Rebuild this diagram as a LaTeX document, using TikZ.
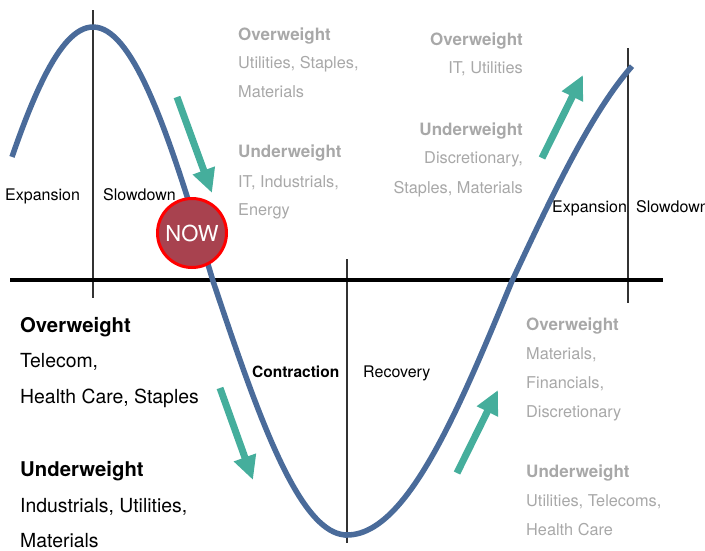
\documentclass[tikz,border=0pt]{standalone}
\usepackage{xcolor}
\usepackage{fontspec}
\setmainfont{TeX Gyre Heros}
\usepackage{tikz}
\usetikzlibrary{arrows.meta}
\definecolor{cyclblue}{HTML}{4A6B9A}
\definecolor{trendgreen}{HTML}{45AE9C}
\definecolor{txtgray}{HTML}{A8A8A8}
\definecolor{nowred}{HTML}{A8424F}
\tikzset{
  phase/.style={font=\fontsize{16}{18}\selectfont, inner sep=0, anchor=base west},
  ghead/.style={font=\bfseries\fontsize{17}{20}\selectfont, text=txtgray, inner sep=0},
  gitem/.style={font=\fontsize{16.3}{18}\selectfont, text=txtgray, inner sep=0},
  bhead/.style={font=\bfseries\fontsize{20.3}{24}\selectfont, inner sep=0, anchor=base west},
  bitem/.style={font=\fontsize{19.4}{22}\selectfont, inner sep=0, anchor=base west},
  trend/.style={trendgreen, line width=7pt, -{Triangle[width=22pt,length=24pt]}},
  divider/.style={black!80, line width=1.5pt}
}

\begin{document}
\begin{tikzpicture}[x=1pt,y=-1pt]
\useasboundingbox (0,0) rectangle (705,550);
% phase dividers and axis
\draw[divider] (93,10) -- (93,298);
\draw[divider] (347,259) -- (347,543);
\draw[divider] (628,48) -- (628,303);
\draw[black, line width=4pt] (10,280) -- (663,280);
% business cycle
\draw[cyclblue, line width=5.5pt]
  plot[domain=12:213, samples=60] (\x,{281-254*cos(0.75*(\x-93))})
  -- plot[domain=213:347, samples=40] (\x,{281+254*sin((\x-213)*90/134)})
  -- plot[domain=347:512, samples=50] (\x,{281+254*cos((\x-347)*90/165)})
  -- plot[domain=512:632, samples=40] (\x,{281-254*sin((\x-512)*90/187)});
% trend arrows
\coordinate (d1a) at (177,97);  \coordinate (d1b) at (212,193);
\coordinate (d2a) at (220,388); \coordinate (d2b) at (253,480);
\coordinate (u1a) at (457,473); \coordinate (u1b) at (498,390);
\coordinate (u2a) at (542,158); \coordinate (u2b) at (583,75);
\draw[trend] (d1a) -- (d1b);
\draw[trend] (d2a) -- (d2b);
\draw[trend] (u1a) -- (u1b);
\draw[trend] (u2a) -- (u2b);
\node[circle, fill=nowred, draw=red, line width=3pt, minimum size=69pt, inner sep=0,
  text=white, font=\fontsize{22}{24}\selectfont] (now) at (192,233) {NOW};
% phase names
\node[phase] (exp1) at (5,200) {Expansion};
\node[phase] (slow1) at (103,200) {Slowdown};
\node[phase, font=\bfseries\fontsize{15.5}{18}\selectfont] (contr) at (252,377) {Contraction};
\node[phase] (recov) at (363,377) {Recovery};
\node[phase] (exp2) at (552,212) {Expansion};
\node[phase] (slow2) at (636,212) {Slowdown};
% slowdown now
\node[ghead, anchor=base west] (sow) at (238,40) {Overweight};
\foreach \y/\txt in {68/{Utilities, Staples,}, 97/Materials}
  \node[gitem, anchor=base west] at (238,\y) {\txt};
\node[ghead, anchor=base west] (suw) at (238,157) {Underweight};
\foreach \y/\txt in {187/{IT, Industrials,}, 215/Energy}
  \node[gitem, anchor=base west] at (238,\y) {\txt};
% contraction
\node[bhead] (cow) at (20,332) {Overweight};
\foreach \y/\txt in {367/{Telecom,}, 403/{Health Care, Staples}}
  \node[bitem] at (20,\y) {\txt};
\node[bhead] (cuw) at (20,476) {Underweight};
\foreach \y/\txt in {512/{Industrials, Utilities,}, 547/Materials}
  \node[bitem] at (20,\y) {\txt};
% recovery
\node[ghead, anchor=base west] (row) at (526,330) {Overweight};
\foreach \y/\txt in {359/{Materials,}, 388/{Financials,}, 417/Discretionary}
  \node[gitem, anchor=base west] at (526,\y) {\txt};
\node[ghead, anchor=base west] (ruw) at (526,477) {Underweight};
\foreach \y/\txt in {506/{Utilities, Telecoms,}, 535/Health Care}
  \node[gitem, anchor=base west] at (526,\y) {\txt};
% expansion
\node[ghead, anchor=base east] (eow) at (523,45) {Overweight};
\node[gitem, anchor=base east] (eowl) at (523,73) {IT, Utilities};
\node[ghead, anchor=base east] (euw) at (523,135) {Underweight};
\foreach \y/\txt in {163/{Discretionary,}, 193/{Staples, Materials}}
  \node[gitem, anchor=base east] at (523,\y) {\txt};
\end{tikzpicture}
\end{document}
